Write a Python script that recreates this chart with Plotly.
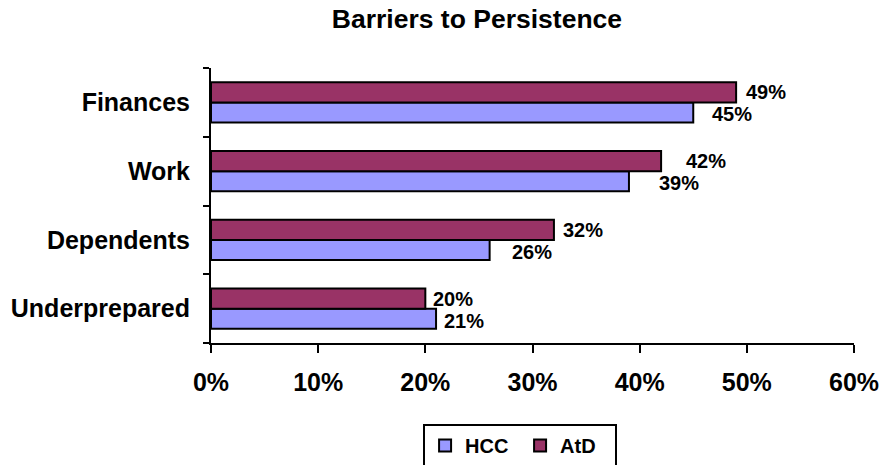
import plotly.graph_objects as go

categories = ["Finances", "Work", "Dependents", "Underprepared"]
hcc = [45, 39, 26, 21]
atd = [49, 42, 32, 20]
x_ticks = [0, 10, 20, 30, 40, 50, 60]

# label pixel offsets (style only)
atd_dx = [8, 23, 7, 6]
hcc_dx = [17, 28, 20, 6]

FONT = "Liberation Sans, Arial, sans-serif"
HCC_COLOR = "#9999FF"
ATD_COLOR = "#993366"

fig = go.Figure()
fig.add_trace(go.Bar(
    y=categories, x=hcc, name="HCC", orientation="h",
    marker=dict(color=HCC_COLOR, line=dict(color="black", width=2)),
))
fig.add_trace(go.Bar(
    y=categories, x=atd, name="AtD", orientation="h",
    marker=dict(color=ATD_COLOR, line=dict(color="black", width=2)),
))

annotations = []
for cat, v, dx in zip(categories, atd, atd_dx):
    annotations.append(dict(x=v, y=cat, xref="x", yref="y", text=f"{v}%",
                            showarrow=False, xanchor="left", yanchor="middle",
                            xshift=dx, yshift=10,
                            font=dict(family=FONT, size=20, color="black", weight="bold")))
for cat, v, dx in zip(categories, hcc, hcc_dx):
    annotations.append(dict(x=v, y=cat, xref="x", yref="y", text=f"{v}%",
                            showarrow=False, xanchor="left", yanchor="middle",
                            xshift=dx, yshift=-12,
                            font=dict(family=FONT, size=20, color="black", weight="bold")))

fig.update_layout(
    width=880, height=465,
    margin=dict(l=211, r=26, t=68, b=122, autoexpand=False),
    paper_bgcolor="white", plot_bgcolor="white",
    barmode="group", bargap=0.418, bargroupgap=0,
    title=dict(text="Barriers to Persistence", xref="container", x=0.542, xanchor="center",
               yref="container", y=0.959, yanchor="middle",
               font=dict(family=FONT, size=26.5, color="black", weight="bold")),
    showlegend=True,
    legend=dict(orientation="h", xref="container", x=0.591, xanchor="center",
                yref="container", y=0.088, yanchor="top",
                bordercolor="black", borderwidth=2, bgcolor="white",
                entrywidth=50,
                font=dict(family=FONT, size=20, color="black", weight="bold"),
                traceorder="normal"),
    annotations=annotations,
)
fig.update_xaxes(range=[0, 60], tickvals=x_ticks, ticktext=[f"{t}%" for t in x_ticks],
                 automargin=False,
                 showgrid=False, zeroline=False, showline=True, linecolor="black", linewidth=2,
                 ticks="outside", ticklen=8, tickwidth=2, tickcolor="black",
                 ticklabelstandoff=8,
                 tickfont=dict(family=FONT, size=25, color="black", weight="bold"))
fig.update_yaxes(categoryorder="array", categoryarray=categories[::-1],
                 automargin=False,
                 tickson="boundaries", showgrid=False, zeroline=False,
                 showline=True, linecolor="black", linewidth=2,
                 ticks="outside", ticklen=6, tickwidth=2, tickcolor="black",
                 ticklabelstandoff=14,
                 tickfont=dict(family=FONT, size=25, color="black", weight="bold"))

fig.write_html("out.html", config={"displayModeBar": False},
               post_script="document.body.style.margin='0';")
